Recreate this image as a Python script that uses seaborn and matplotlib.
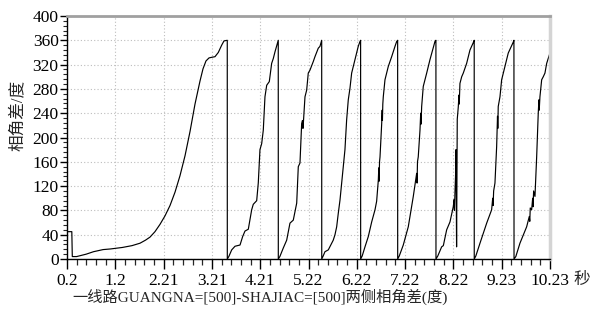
import numpy as np
import pandas as pd
import matplotlib
matplotlib.use("Agg")
import matplotlib.pyplot as plt
import seaborn as sns
from matplotlib.ticker import MultipleLocator, AutoMinorLocator

# ---- data (time in s, phase-angle difference in degrees) ----
seg1_t = [0.200, 0.300, 0.310, 0.40, 0.60, 0.75, 0.95, 1.10, 1.35, 1.55, 1.716, 1.83, 1.923, 2.027,
          2.131, 2.235, 2.339, 2.443, 2.546, 2.651, 2.755, 2.858, 2.962, 3.024, 3.086, 3.149, 3.205,
          3.273, 3.342, 3.412, 3.460, 3.528]
seg1_v = [45, 45, 4, 4, 8, 12, 15.5, 16.5, 19, 22, 26, 31, 36, 45, 57, 71, 88, 110, 137, 170, 210,
          255, 293, 313, 326, 331, 332, 333, 340, 352, 359, 360]

seg2_t = [3.529, 3.560, 3.620, 3.689, 3.793, 3.848, 3.896, 3.965, 4.035, 4.068, 4.139, 4.172, 4.207,
          4.243, 4.276, 4.311, 4.347, 4.401, 4.450, 4.484, 4.519, 4.587]
seg2_v = [0, 4, 15, 21, 23, 37, 46, 49, 81, 90, 96, 125, 180, 190, 212, 267, 286, 292, 322, 330, 341, 360]

seg3_t = [4.588, 4.620, 4.691, 4.762, 4.830, 4.899, 4.970, 5.003, 5.038, 5.073, 5.090, 5.100, 5.110,
          5.142, 5.177, 5.210, 5.246, 5.314, 5.349, 5.418, 5.453, 5.489]
seg3_v = [0, 4, 18, 31, 59, 64, 92, 152, 158, 223, 228, 215, 226, 267, 278, 306, 311, 325, 333, 347, 350, 360]

seg4_t = [5.490, 5.520, 5.557, 5.626, 5.696, 5.729, 5.765, 5.800, 5.833, 5.869, 5.937, 5.972, 6.007,
          6.041, 6.076, 6.111, 6.180, 6.248, 6.284, 6.297]
seg4_v = [0, 5, 12, 15, 26, 31, 40, 53, 75, 97, 152, 180, 229, 262, 281, 306, 328, 350, 358, 360]

seg5_t = [6.298, 6.330, 6.388, 6.457, 6.527, 6.596, 6.630, 6.665, 6.675, 6.680, 6.690, 6.700, 6.735,
          6.745, 6.750, 6.758, 6.768, 6.803, 6.872, 6.942, 7.011, 7.046, 7.066]
seg5_v = [0, 5, 20, 37, 61, 81, 95, 130, 150, 128, 160, 168, 223, 245, 228, 255, 267, 295, 317, 333,
          350, 358, 360]

seg6_t = [7.067, 7.100, 7.183, 7.287, 7.391, 7.461, 7.470, 7.478, 7.494, 7.530, 7.545, 7.552, 7.565,
          7.598, 7.669, 7.737, 7.841, 7.861]
seg6_v = [0, 5, 23, 53, 103, 141, 125, 160, 168, 212, 240, 222, 251, 284, 306, 328, 358, 360]

seg7_t = [7.862, 7.900, 7.980, 8.015, 8.084, 8.153, 8.221, 8.240, 8.246, 8.256, 8.270, 8.278, 8.290,
          8.304, 8.325, 8.340, 8.345, 8.360, 8.396, 8.429, 8.499, 8.568, 8.636, 8.656]
seg7_v = [0, 5, 20, 22, 48, 61, 86, 98, 80, 108, 140, 180, 20, 230, 250, 270, 255, 289, 300, 306,
          322, 344, 356, 360]

seg8_t = [8.657, 8.690, 8.776, 8.915, 9.018, 9.040, 9.048, 9.060, 9.087, 9.122, 9.140, 9.146, 9.155,
          9.191, 9.226, 9.295, 9.363, 9.467, 9.481]
seg8_v = [0, 5, 26, 59, 81, 100, 88, 112, 125, 185, 235, 215, 251, 267, 295, 317, 339, 357, 360]

seg9_t = [9.483, 9.520, 9.606, 9.745, 9.800, 9.810, 9.820, 9.849, 9.870, 9.878, 9.890, 9.918, 9.953,
          9.986, 10.000, 10.006, 10.021, 10.057, 10.090, 10.125, 10.161, 10.229]
seg9_v = [0, 4, 26, 53, 70, 62, 84, 81, 100, 86, 112, 103, 168, 240, 262, 245, 267, 295, 300, 306,
          322, 339]

x_tick_labels = ["0.2", "1.2", "2.21", "3.21", "4.21", "5.22", "6.22", "7.22", "8.22", "9.23", "10.23"]
y_ticks = [0, 40, 80, 120, 160, 200, 240, 280, 320, 360, 400]
y_label = "相角差/度"
x_label = "一线路GUANGNA=[500]-SHAJIAC=[500]两侧相角差(度)"
x_unit = "秒"

t_all = seg1_t + seg2_t + seg3_t + seg4_t + seg5_t + seg6_t + seg7_t + seg8_t + seg9_t
v_all = seg1_v + seg2_v + seg3_v + seg4_v + seg5_v + seg6_v + seg7_v + seg8_v + seg9_v
df = pd.DataFrame({"t": t_all, "v": v_all})

sns.set_style("ticks")
plt.rcParams["font.family"] = ["Liberation Serif", "Noto Sans CJK SC"]

W, H = 599, 309
fig = plt.figure(figsize=(W / 100, H / 100), dpi=100)
L, R, T, B = 67, 550, 16, 259
ax = fig.add_axes([L / W, 1 - B / H, (R - L) / W, (B - T) / H])

sns.lineplot(data=df, x="t", y="v", sort=False, estimator=None, color="black",
             linewidth=0.85, ax=ax)

ax.set_xlim(0.2, 10.23)
ax.set_ylim(0, 400)
ax.set_xticks(np.linspace(0.2, 10.23, len(x_tick_labels)))
ax.set_xticklabels(x_tick_labels)
ax.xaxis.set_minor_locator(AutoMinorLocator(5))
ax.set_yticks(y_ticks)
ax.set_yticklabels([str(v) for v in y_ticks])
ax.yaxis.set_minor_locator(MultipleLocator(8))

ax.tick_params(axis="x", which="major", length=7, width=1, direction="out",
               labelsize=12.5, pad=3, bottom=True, colors="black")
ax.tick_params(axis="x", which="minor", length=4, width=0.9, direction="out", bottom=True)
ax.tick_params(axis="y", which="major", length=5, width=1, direction="out",
               labelsize=12.5, pad=1, left=True, colors="black")
ax.tick_params(axis="y", which="minor", length=3, width=0.8, direction="out", left=True)

# last x tick label sits a little to the left in the reference
ax.get_xticklabels()[-1].set_horizontalalignment("center")

ax.grid(True, which="major", linestyle=(0, (1, 2)), color="#bdbdbd", linewidth=0.8)
ax.set_axisbelow(True)

for s in ["left", "bottom"]:
    ax.spines[s].set_color("black")
    ax.spines[s].set_linewidth(1.0)
ax.spines["top"].set_visible(True)
ax.spines["top"].set_color("#a0a0a0")
ax.spines["top"].set_linewidth(2.0)
ax.spines["right"].set_visible(True)
ax.spines["right"].set_color("#d4d4d4")
ax.spines["right"].set_linewidth(2.5)

ax.set_xlabel("")
ax.set_ylabel("")

fig.text(18 / W, 1 - 115 / H, y_label, rotation=90, ha="center", va="center", fontsize=12)
fig.text(72 / W, 1 - 297 / H, x_label, ha="left", va="center", fontsize=11)
fig.text(582 / W, 1 - 280 / H, x_unit, ha="center", va="center", fontsize=12)

fig.savefig("out.png", dpi=100)
